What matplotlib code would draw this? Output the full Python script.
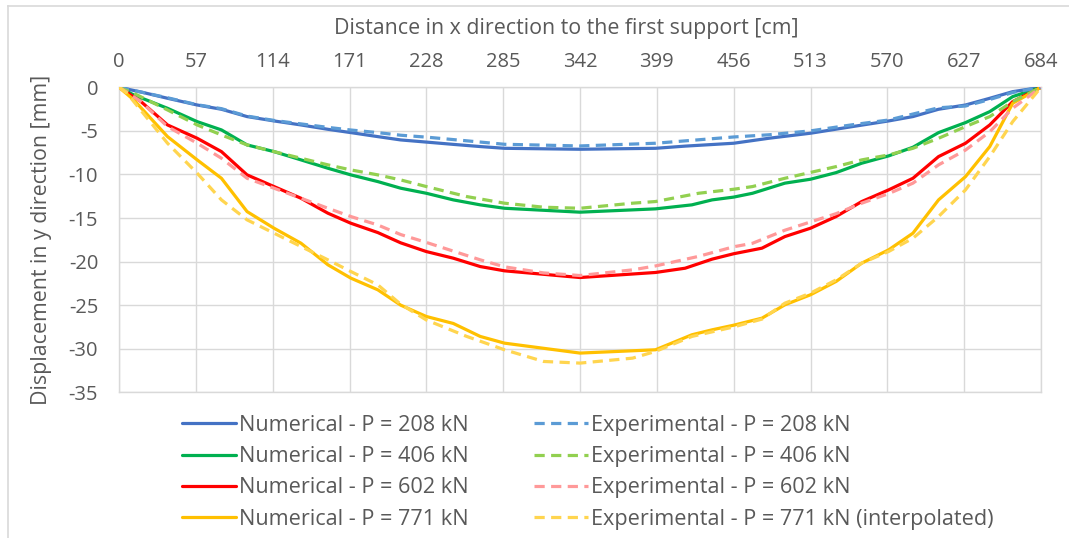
import matplotlib
matplotlib.use("Agg")
import matplotlib.pyplot as plt
from matplotlib.lines import Line2D

plt.rcParams['font.family'] = ['Open Sans', 'DejaVu Sans']
plt.rcParams['axes.unicode_minus'] = False

# ---- data ----
x_num208 = [0, 18, 36, 58, 76, 95, 115, 135, 155, 172, 192, 209, 229, 248, 268, 286, 342, 398, 420, 456, 482, 513, 544, 571, 589, 608, 628, 646, 663, 684]
y_num208 = [0, -0.6, -1.26, -2.03, -2.52, -3.36, -3.86, -4.32, -4.82, -5.2, -5.66, -6.04, -6.3, -6.55, -6.8, -7.0, -7.11, -7.0, -6.75, -6.42, -5.85, -5.27, -4.51, -3.86, -3.36, -2.52, -2.03, -1.26, -0.5, 0]

x_exp208 = [0, 36, 58, 76, 95, 115, 135, 155, 172, 192, 209, 229, 286, 342, 398, 456, 482, 513, 544, 571, 608, 628, 646, 663, 684]
y_exp208 = [0, -1.2, -2.0, -2.45, -3.3, -3.8, -4.2, -4.6, -4.9, -5.2, -5.5, -5.73, -6.54, -6.73, -6.42, -5.7, -5.45, -5.0, -4.3, -3.75, -2.35, -2.15, -1.4, -0.6, 0]

x_num406 = [0, 11, 36, 58, 76, 95, 115, 135, 155, 172, 192, 209, 228, 248, 268, 286, 342, 398, 425, 440, 456, 470, 494, 513, 532, 551, 571, 589, 608, 628, 646, 663, 684]
y_num406 = [0, -0.88, -2.41, -3.94, -4.89, -6.61, -7.38, -8.33, -9.29, -10.05, -10.82, -11.58, -12.16, -12.92, -13.49, -13.88, -14.33, -13.95, -13.49, -12.92, -12.6, -12.16, -11.0, -10.55, -9.79, -8.71, -7.87, -6.88, -5.2, -4.05, -2.79, -1.07, 0]

x_exp406 = [0, 11, 36, 58, 76, 95, 115, 135, 155, 172, 192, 209, 228, 258, 286, 315, 342, 381, 398, 430, 456, 470, 494, 532, 551, 571, 589, 608, 628, 646, 663, 684]
y_exp406 = [0, -0.69, -2.6, -4.32, -5.47, -6.61, -7.38, -8.14, -8.9, -9.48, -10.05, -10.63, -11.39, -12.54, -13.3, -13.76, -13.88, -13.3, -13.11, -12.16, -11.7, -11.39, -10.44, -9.1, -8.33, -7.76, -7.0, -5.85, -4.51, -3.36, -1.64, 0]

x_num602 = [0, 16, 36, 58, 76, 95, 115, 135, 155, 172, 192, 209, 228, 248, 268, 286, 342, 398, 420, 440, 456, 477, 494, 513, 532, 551, 571, 589, 608, 628, 646, 663, 684]
y_num602 = [0, -1.6, -4.32, -5.85, -7.38, -10.05, -11.39, -12.73, -14.45, -15.6, -16.67, -17.85, -18.85, -19.61, -20.57, -21.06, -21.83, -21.25, -20.76, -19.72, -19.1, -18.46, -17.13, -16.17, -14.83, -13.11, -11.77, -10.44, -7.95, -6.42, -4.32, -1.64, 0]

x_exp602 = [0, 16, 36, 58, 76, 95, 115, 135, 155, 172, 192, 209, 228, 248, 268, 286, 315, 342, 381, 398, 430, 456, 470, 494, 532, 551, 571, 589, 608, 628, 646, 663, 684]
y_exp602 = [0, -1.6, -4.51, -6.42, -8.14, -10.44, -11.58, -12.73, -13.88, -14.83, -15.8, -16.9, -17.8, -18.8, -19.8, -20.6, -21.3, -21.6, -20.95, -20.5, -19.4, -18.3, -17.9, -16.4, -14.5, -13.3, -12.2, -11.0, -8.9, -7.2, -5.1, -2.4, 0]

x_num771 = [0, 11, 36, 58, 76, 95, 115, 135, 155, 172, 192, 209, 228, 248, 268, 286, 342, 398, 425, 440, 456, 477, 494, 513, 532, 551, 571, 589, 608, 628, 646, 663, 684]
y_num771 = [0, -1.45, -5.66, -8.33, -10.44, -14.26, -16.17, -17.89, -20.37, -21.9, -23.24, -25.0, -26.3, -27.1, -28.59, -29.36, -30.5, -30.12, -28.4, -27.83, -27.3, -26.49, -24.96, -23.81, -22.28, -20.18, -18.65, -16.74, -12.92, -10.25, -6.8, -1.83, 0]

x_exp771 = [0, 6, 36, 58, 76, 95, 115, 135, 155, 172, 192, 209, 228, 258, 286, 315, 342, 381, 398, 425, 456, 477, 494, 513, 532, 551, 571, 589, 608, 628, 646, 663, 684]
y_exp771 = [0, -0.69, -6.42, -9.86, -12.92, -15.21, -16.74, -18.27, -19.8, -21.14, -22.67, -24.9, -26.7, -28.59, -30.12, -31.46, -31.65, -31.08, -30.31, -28.59, -27.5, -26.6, -24.77, -23.62, -22.1, -20.18, -18.84, -17.32, -14.83, -11.77, -7.95, -3.94, 0]

x_ticks = [0, 57, 114, 171, 228, 285, 342, 399, 456, 513, 570, 627, 684]
y_ticks = [0, -5, -10, -15, -20, -25, -30, -35]

labels_num = ["Numerical - P = 208 kN", "Numerical - P = 406 kN",
              "Numerical - P = 602 kN", "Numerical - P = 771 kN"]
labels_exp = ["Experimental - P = 208 kN", "Experimental - P = 406 kN",
              "Experimental - P = 602 kN", "Experimental - P = 771 kN (interpolated)"]

col_num = ['#4472C4', '#00B050', '#FF0000', '#FFC000']
col_exp = ['#5B9BD5', '#92D050', '#FF9999', '#FFD54F']

# ---- figure ----
W, H = 1069, 538
fig = plt.figure(figsize=(W / 100, H / 100), dpi=100)
ax = fig.add_axes([119 / W, 1 - 392.3 / H, (1041 - 119) / W, (392.3 - 87.3) / H])

lw = 2.3
dash = (0, (3.2, 2.0))
num_series = [(x_num208, y_num208), (x_num406, y_num406), (x_num602, y_num602), (x_num771, y_num771)]
exp_series = [(x_exp208, y_exp208), (x_exp406, y_exp406), (x_exp602, y_exp602), (x_exp771, y_exp771)]

handles = []
for (xs, ys), c, lab in zip(num_series, col_num, labels_num):
    h, = ax.plot(xs, ys, color=c, lw=lw, label=lab, solid_capstyle='round', zorder=3)
    handles.append(h)
for (xs, ys), c, lab in zip(exp_series, col_exp, labels_exp):
    h, = ax.plot(xs, ys, color=c, lw=lw, ls=dash, label=lab, zorder=3)
    handles.append(h)

ax.set_xlim(0, 684)
ax.set_ylim(-35, 0)
ax.set_xticks(x_ticks)
ax.set_yticks(y_ticks)
ax.xaxis.tick_top()
ax.xaxis.set_label_position('top')
txtc = '#595959'
ax.tick_params(axis='both', length=0, labelsize=14.5, colors=txtc)
ax.tick_params(axis='x', pad=11)
ax.tick_params(axis='y', pad=15)
ax.grid(True, color='#d9d9d9', lw=1)
ax.set_axisbelow(True)
for s in ax.spines.values():
    s.set_color('#d9d9d9')
    s.set_linewidth(1)

ax.set_xlabel("Distance in x direction to the first support [cm]", fontsize=15.4, color=txtc, labelpad=13)
ax.xaxis.label.set_x((566.5 - 119) / 922)
ax.set_ylabel("Displacement in y direction [mm]", fontsize=15.4, color=txtc, labelpad=12)

leg = fig.legend(handles=handles, ncol=2, loc='upper left',
                 bbox_to_anchor=(182 / W, 1 - 415 / H), frameon=False,
                 fontsize=15.6, handlelength=2.5, handletextpad=0.12,
                 columnspacing=3.03, labelspacing=0.47, borderpad=0, borderaxespad=0)
for t in leg.get_texts():
    t.set_color(txtc)

# chart-area border
fig.add_artist(Line2D([8 / W, 1.0], [1 - 6 / H, 1 - 6 / H], transform=fig.transFigure, color='#d9d9d9', lw=1.2))
fig.add_artist(Line2D([8 / W, 8 / W], [0, 1 - 6 / H], transform=fig.transFigure, color='#d9d9d9', lw=1.2))

fig.savefig('out.png', dpi=100)
